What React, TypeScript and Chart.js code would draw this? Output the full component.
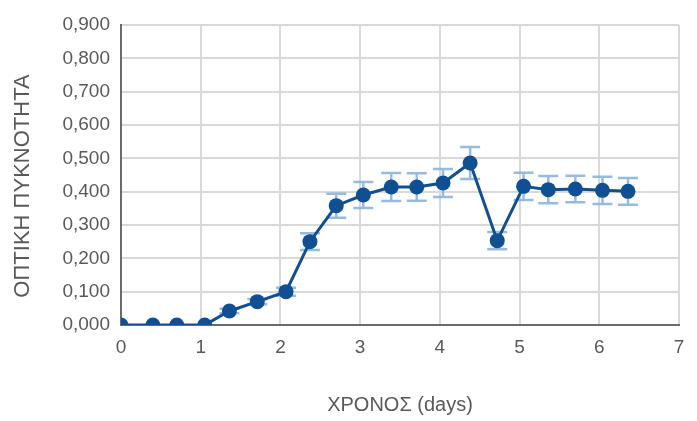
import React, { useEffect, useRef } from "react";
import { Chart, registerables } from "chart.js";

Chart.register(...registerables);

const timeDays = [0, 0.4, 0.7, 1.05, 1.36, 1.71, 2.07, 2.37, 2.7, 3.04, 3.39, 3.71, 4.04, 4.38, 4.72, 5.05, 5.36, 5.7, 6.04, 6.36];
const opticalDensity = [0, 0, 0, 0, 0.042, 0.07, 0.1, 0.25, 0.358, 0.39, 0.414, 0.414, 0.426, 0.486, 0.253, 0.416, 0.406, 0.408, 0.404, 0.401];
const errorValues = [0, 0, 0, 0, 0.007, 0.008, 0.012, 0.025, 0.036, 0.039, 0.042, 0.041, 0.042, 0.048, 0.026, 0.041, 0.041, 0.04, 0.041, 0.04];
const yTickLabels = ["0,000", "0,100", "0,200", "0,300", "0,400", "0,500", "0,600", "0,700", "0,800", "0,900"];
const xTickLabels = ["0", "1", "2", "3", "4", "5", "6", "7"];
const xTitle = "ΧΡΟΝΟΣ (days)";
const yTitle = "ΟΠΤΙΚΗ ΠΥΚΝΟΤΗΤΑ";

const FONT = "'Liberation Sans', Arial, sans-serif";

const errorBarPlugin = {
  id: "errorBars",
  beforeDatasetsDraw(chart: any) {
    const { ctx, chartArea, scales } = chart;
    const xs = scales.x;
    const ys = scales.y;
    ctx.save();
    ctx.beginPath();
    ctx.rect(chartArea.left, chartArea.top, chartArea.right - chartArea.left, chartArea.bottom - chartArea.top);
    ctx.clip();
    ctx.strokeStyle = "rgba(125,170,215,0.8)";
    ctx.lineWidth = 2.5;
    const cap = 10;
    timeDays.forEach((t, i) => {
      const e = errorValues[i];
      if (!e) return;
      const px = xs.getPixelForValue(t);
      const top = ys.getPixelForValue(opticalDensity[i] + e);
      const bot = ys.getPixelForValue(opticalDensity[i] - e);
      ctx.beginPath();
      ctx.moveTo(px, top);
      ctx.lineTo(px, bot);
      ctx.moveTo(px - cap, top);
      ctx.lineTo(px + cap, top);
      ctx.moveTo(px - cap, bot);
      ctx.lineTo(px + cap, bot);
      ctx.stroke();
    });
    ctx.restore();
  },
};

const yTitlePlugin = {
  id: "yTitle",
  afterDraw(chart: any) {
    const { ctx } = chart;
    ctx.save();
    ctx.translate(22.5, 186);
    ctx.rotate(-Math.PI / 2);
    ctx.fillStyle = "#595959";
    ctx.font = `22px ${FONT}`;
    ctx.textAlign = "center";
    ctx.textBaseline = "middle";
    ctx.fillText(yTitle, 0, 0);
    ctx.restore();
  },
};

export default function App() {
  const ref = useRef<HTMLCanvasElement | null>(null);
  useEffect(() => {
    if (!ref.current) return;
    const chart = new Chart(ref.current, {
      type: "line",
      data: {
        datasets: [
          {
            data: timeDays.map((t, i) => ({ x: t, y: opticalDensity[i] })),
            borderColor: "#0f4f92",
            backgroundColor: "#0f4f92",
            borderWidth: 3,
            pointRadius: 7.5,
            pointHoverRadius: 7.5,
            pointBorderWidth: 0,
            tension: 0,
          },
        ],
      },
      plugins: [errorBarPlugin, yTitlePlugin],
      options: {
        animation: false,
        responsive: true,
        maintainAspectRatio: false,
        layout: { padding: { left: 0, top: 25, right: 18, bottom: 0 } },
        plugins: { legend: { display: false }, tooltip: { enabled: false } },
        scales: {
          x: {
            type: "linear",
            min: 0,
            max: 7,
            afterFit(scale: any) {
              scale.height = 96;
            },
            ticks: {
              stepSize: 1,
              padding: 11,
              color: "#595959",
              font: { family: FONT, size: 19 },
              maxRotation: 0,
              callback: (v: any) => xTickLabels[Math.round(Number(v))] ?? "",
            },
            grid: { color: "#d9d9d9", lineWidth: 2, drawTicks: false },
            border: { color: "#6b6b6b", width: 2 },
            title: {
              display: true,
              text: xTitle,
              color: "#595959",
              font: { family: FONT, size: 20 },
              padding: { top: 0, bottom: 4 },
            },
          },
          y: {
            min: 0,
            max: 0.9,
            afterFit(scale: any) {
              scale.width = 121;
            },
            ticks: {
              stepSize: 0.1,
              padding: 11,
              color: "#595959",
              font: { family: FONT, size: 19 },
              callback: (v: any) => yTickLabels[Math.round(Number(v) * 10)] ?? "",
            },
            grid: { color: "#d9d9d9", lineWidth: 2, drawTicks: false },
            border: { color: "#6b6b6b", width: 2 },
            title: { display: false, text: yTitle },
          },
        },
      },
    });
    return () => chart.destroy();
  }, []);
  return (
    <div style={{ position: "absolute", left: 0, top: 0, width: 697, height: 421, background: "#fff" }}>
      <canvas ref={ref} />
    </div>
  );
}
